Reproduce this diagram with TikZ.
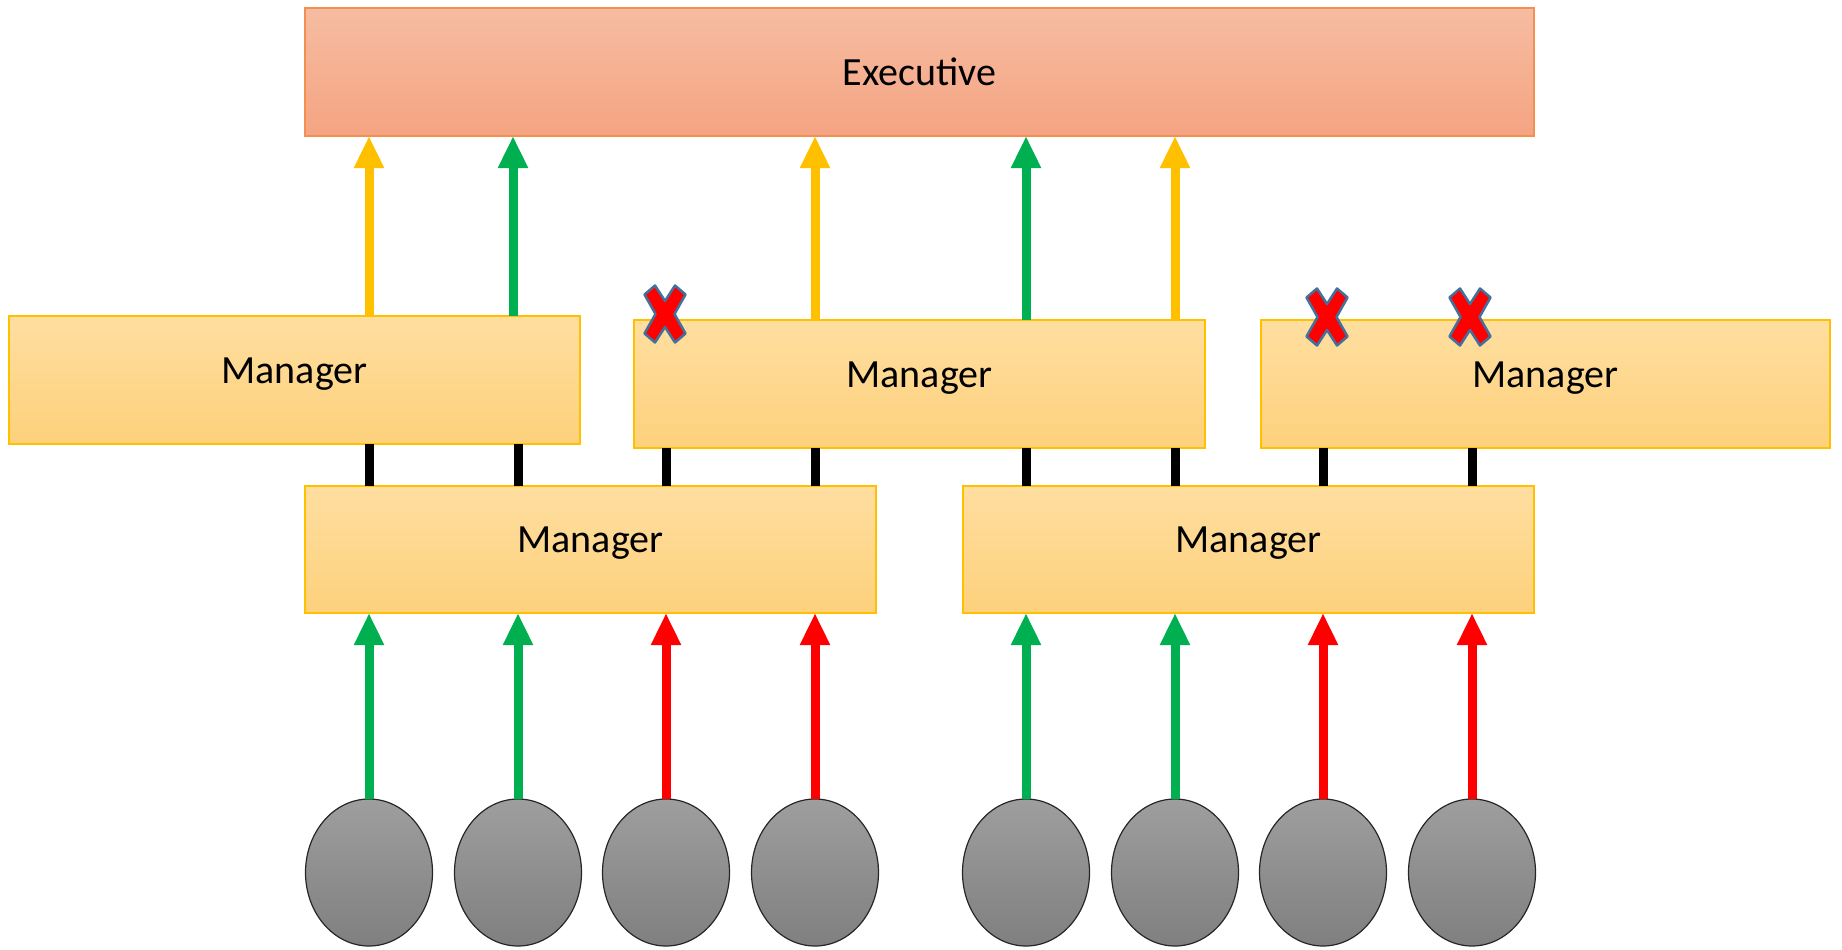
\documentclass[tikz,border=0pt]{standalone}
\usepackage{fontspec}
\setmainfont{Carlito}
\usetikzlibrary{arrows.meta,shapes.geometric}
\definecolor{ygold}{HTML}{FFC000}
\definecolor{ggreen}{HTML}{00B050}
\definecolor{rred}{HTML}{FF0000}
\definecolor{mgrtop}{HTML}{FFDEA0}
\definecolor{mgrbot}{HTML}{FDD17C}
\definecolor{exetop}{HTML}{F6BCA2}
\definecolor{exebot}{HTML}{F5A482}
\definecolor{exeborder}{HTML}{F4904F}
\definecolor{xblue}{HTML}{41719C}
\tikzset{
  mgr/.style={rectangle, draw=ygold, line width=1.5pt, top color=mgrtop, bottom color=mgrbot,
    inner sep=0pt, outer sep=0pt, text height=26pt, text depth=20pt, font=\fontsize{40}{48}\selectfont},
  exe/.style={rectangle, draw=exeborder, line width=1.5pt, top color=exetop, bottom color=exebot,
    inner sep=0pt, outer sep=0pt, minimum width=1229pt, minimum height=128pt, font=\fontsize{40}{48}\selectfont},
  emp/.style={ellipse, draw=black!85, line width=1.2pt, top color=black!38, bottom color=black!50,
    minimum width=127pt, minimum height=147pt, inner sep=0pt, outer sep=0pt},
  upar/.style={line width=9pt, -{Triangle[width=28pt,length=32pt]}},
  link/.style={line width=9pt, black},
  xmark/.style={fill=rred, draw=xblue, line width=2.5pt, line join=round}
}
\newcommand{\xcross}[2]{%
  \path[xmark] (#1-20.5,#2-19.5) -- (#1-10,#2-28.5) -- (#1,#2-13) -- (#1+10,#2-28.5) -- (#1+20.5,#2-19.5)
    -- (#1+9.5,#2) -- (#1+20.5,#2+19.5) -- (#1+10,#2+28.5) -- (#1,#2+13) -- (#1-10,#2+28.5)
    -- (#1-20.5,#2+19.5) -- (#1-9.5,#2) -- cycle;}
\begin{document}
\begin{tikzpicture}[x=1pt,y=-1pt]
\useasboundingbox (0,0) rectangle (1842,950);
% nodes
\node[exe] (ex) at (919.5,72) {Executive};
\node[mgr, minimum width=571pt, minimum height=128pt] (m1) at (294.5,380) {Manager};
\node[mgr, minimum width=571pt, minimum height=128pt] (m2) at (919.5,384) {Manager};
\node[mgr, minimum width=569pt, minimum height=128pt] (m3) at (1545.5,384) {Manager};
\node[mgr, minimum width=571pt, minimum height=127pt] (b1) at (590.5,549.5) {Manager};
\node[mgr, minimum width=571pt, minimum height=127pt] (b2) at (1248.5,549.5) {Manager};
\node[emp] (e1) at (369,872.5) {};
\node[emp] (e2) at (518,872.5) {};
\node[emp] (e3) at (666,872.5) {};
\node[emp] (e4) at (815,872.5) {};
\node[emp] (e5) at (1026,872.5) {};
\node[emp] (e6) at (1175,872.5) {};
\node[emp] (e7) at (1323,872.5) {};
\node[emp] (e8) at (1472,872.5) {};
% employee -> bottom managers
\draw[upar, ggreen] (e1.north) -- (e1.north |- b1.south);
\draw[upar, ggreen] (e2.north) -- (e2.north |- b1.south);
\draw[upar, rred] (e3.north) -- (e3.north |- b1.south);
\draw[upar, rred] (e4.north) -- (e4.north |- b1.south);
\draw[upar, ggreen] (e5.north) -- (e5.north |- b2.south);
\draw[upar, ggreen] (e6.north) -- (e6.north |- b2.south);
\draw[upar, rred] (e7.north) -- (e7.north |- b2.south);
\draw[upar, rred] (e8.north) -- (e8.north |- b2.south);
% links between manager rows
\draw[link] (e1 |- b1.north) -- (e1 |- m1.south);
\draw[link] (e2 |- b1.north) -- (e2 |- m1.south);
\draw[link] (e3 |- b1.north) -- (e3 |- m2.south);
\draw[link] (e4 |- b1.north) -- (e4 |- m2.south);
\draw[link] (e5 |- b2.north) -- (e5 |- m2.south);
\draw[link] (e6 |- b2.north) -- (e6 |- m2.south);
\draw[link] (e7 |- b2.north) -- (e7 |- m3.south);
\draw[link] (e8 |- b2.north) -- (e8 |- m3.south);
% middle managers -> executive
\draw[upar, ygold] (e1 |- m1.north) -- (e1 |- ex.south);
\draw[upar, ggreen] ([xshift=-5pt]e2 |- m1.north) -- ([xshift=-5pt]e2 |- ex.south);
\draw[upar, ygold] (e4 |- m2.north) -- (e4 |- ex.south);
\draw[upar, ggreen] (e5 |- m2.north) -- (e5 |- ex.south);
\draw[upar, ygold] (e6 |- m2.north) -- (e6 |- ex.south);
% crosses
\xcross{665}{314}
\xcross{1327}{317}
\xcross{1470}{317}
\end{tikzpicture}
\end{document}
